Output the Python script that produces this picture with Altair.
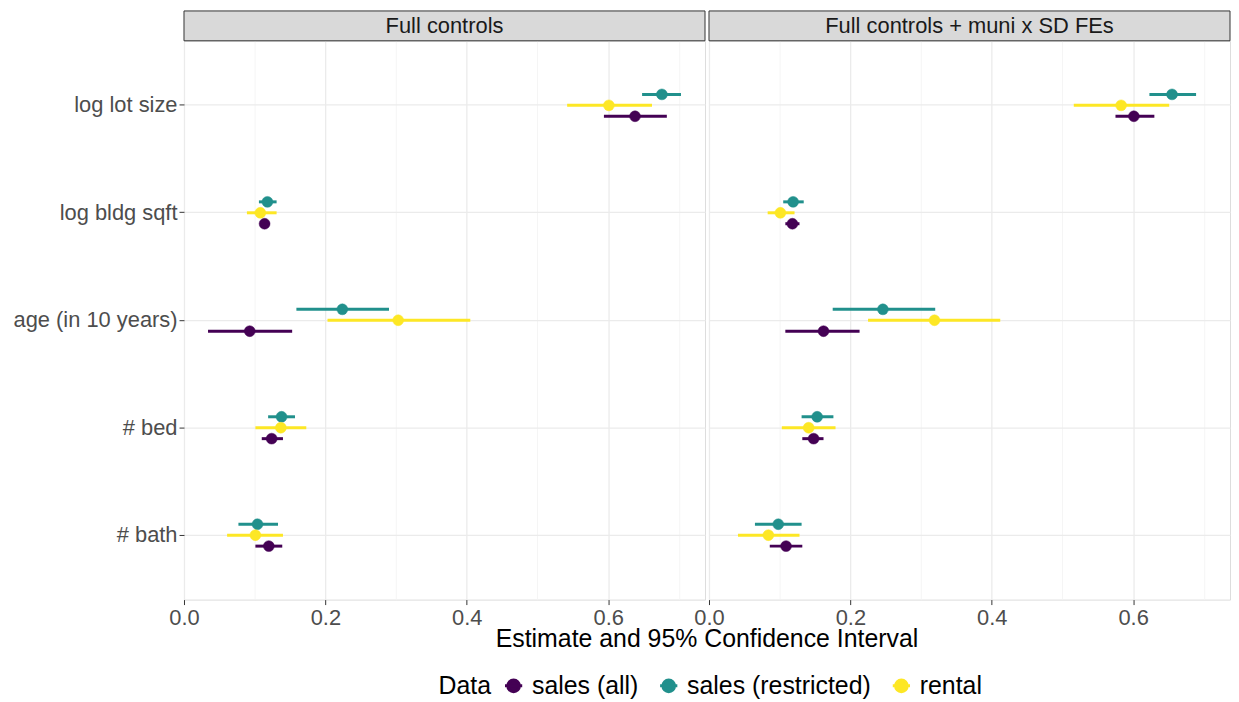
import altair as alt
import pandas as pd

variables = ["log lot size", "log bldg sqft", "age (in 10 years)", "# bed", "# bath"]
series = ["sales (all)", "sales (restricted)", "rental"]
colors = ["#440154", "#21908C", "#FDE725"]
panels = ["Full controls", "Full controls + muni x SD FEs"]
x_title = "Estimate and 95% Confidence Interval"

# Panel 1: Full controls (values in the order of `variables`)
fc_all_est = [0.638, 0.114, 0.093, 0.124, 0.120]
fc_all_lo = [0.594, 0.108, 0.034, 0.110, 0.101]
fc_all_hi = [0.683, 0.121, 0.153, 0.140, 0.139]
fc_res_est = [0.676, 0.118, 0.224, 0.138, 0.104]
fc_res_lo = [0.648, 0.106, 0.159, 0.119, 0.077]
fc_res_hi = [0.703, 0.131, 0.290, 0.157, 0.133]
fc_ren_est = [0.601, 0.108, 0.303, 0.137, 0.101]
fc_ren_lo = [0.542, 0.089, 0.203, 0.101, 0.061]
fc_ren_hi = [0.662, 0.131, 0.405, 0.173, 0.140]

# Panel 2: Full controls + muni x SD FEs
mf_all_est = [0.601, 0.118, 0.162, 0.148, 0.109]
mf_all_lo = [0.575, 0.108, 0.108, 0.132, 0.086]
mf_all_hi = [0.630, 0.128, 0.213, 0.162, 0.132]
mf_res_est = [0.655, 0.119, 0.246, 0.153, 0.098]
mf_res_lo = [0.623, 0.105, 0.175, 0.131, 0.065]
mf_res_hi = [0.689, 0.134, 0.320, 0.176, 0.131]
mf_ren_est = [0.583, 0.101, 0.319, 0.141, 0.084]
mf_ren_lo = [0.516, 0.083, 0.225, 0.103, 0.041]
mf_ren_hi = [0.651, 0.121, 0.412, 0.179, 0.128]

x_domain = [0, 0.737]
x_ticks = [0.0, 0.1, 0.2, 0.3, 0.4, 0.5, 0.6, 0.7]


def build_df(groups):
    rows = []
    for name, (est, lo, hi) in zip(series, groups):
        for v, e, l, h in zip(variables, est, lo, hi):
            rows.append({"Variable": v, "Data": name, "est": e, "lo": l, "hi": h})
    return pd.DataFrame(rows)


df1 = build_df([(fc_all_est, fc_all_lo, fc_all_hi),
                (fc_res_est, fc_res_lo, fc_res_hi),
                (fc_ren_est, fc_ren_lo, fc_ren_hi)])
df2 = build_df([(mf_all_est, mf_all_lo, mf_all_hi),
                (mf_res_est, mf_res_lo, mf_res_hi),
                (mf_ren_est, mf_ren_lo, mf_ren_hi)])

W, H = 524, 562
STRIP = 30
GAP = 4
FONT = "Liberation Sans"

legend = alt.Legend(
    title="Data", orient="none", legendX=256, legendY=636,
    direction="horizontal", titleOrient="left",
    symbolType="M -1 0 L 1 0 M 0.68 0 A 0.68 0.68 0 1 1 -0.68 0 A 0.68 0.68 0 1 1 0.68 0 Z",
    symbolSize=300, symbolStrokeWidth=3, symbolOpacity=1,
    labelFontSize=25, titleFontSize=25, labelColor="#000000", titleColor="#000000",
    labelFont=FONT, titleFont=FONT, titleFontWeight="normal", labelLimit=400,
    columnPadding=15, labelOffset=6, titlePadding=10,
)
color_scale = alt.Scale(domain=series, range=colors)

odd = "round(datum.value*10) % 2 == 1"


def x_axis():
    return alt.Axis(
        values=x_ticks, title=None, grid=True, domain=False,
        labelExpr="round(datum.value*10) % 2 == 0 ? format(datum.value, '.1f') : ''",
        labelOverlap=False, labelFlush=False, labelBound=False,
        labelFontSize=22, labelColor="#4D4D4D", labelFont=FONT, labelPadding=3,
        tickColor="#333333", tickSize=5,
        tickOpacity={"condition": {"test": odd, "value": 0}, "value": 1},
        gridColor={"condition": {"test": odd, "value": "#F2F2F2"}, "value": "#EBEBEB"},
        gridWidth={"condition": {"test": odd, "value": 0.8}, "value": 1.3},
    )


def y_axis(show):
    if show:
        return alt.Axis(title=None, grid=True, gridColor="#EBEBEB", gridWidth=1.3,
                        domain=False, bandPosition=0.5, labelFontSize=22,
                        labelColor="#4D4D4D", labelFont=FONT, labelPadding=2,
                        tickColor="#333333", tickSize=5)
    return alt.Axis(title=None, grid=True, gridColor="#EBEBEB", gridWidth=1.3,
                    domain=False, bandPosition=0.5, labels=False, ticks=False)


def panel(df, title, show_y):
    xs = alt.Scale(domain=x_domain, nice=False, zero=False)
    y = alt.Y("Variable:N", sort=variables,
              scale=alt.Scale(paddingInner=0, paddingOuter=0.1), axis=y_axis(show_y))
    yoff = alt.YOffset("Data:N", sort=["sales (restricted)", "rental", "sales (all)"],
                       scale=alt.Scale(paddingInner=0, paddingOuter=0, range=[37.6, 70.6]))
    base = alt.Chart(df)
    rules = base.mark_rule(strokeWidth=3).encode(
        x=alt.X("lo:Q", scale=xs, axis=x_axis()),
        x2="hi:Q",
        y=y, yOffset=yoff,
        color=alt.Color("Data:N", scale=color_scale, legend=legend),
    )
    points = base.mark_point(filled=True, size=120, opacity=1, strokeWidth=0.5).encode(
        x=alt.X("est:Q", scale=xs, axis=x_axis()),
        y=y, yOffset=yoff,
        color=alt.Color("Data:N", scale=color_scale, legend=legend),
        stroke=alt.Stroke("Data:N", scale=color_scale, legend=legend),
    )
    sdf = pd.DataFrame({"label": [title]})
    strip_rect = alt.Chart(sdf).mark_rect(
        fill="#D9D9D9", stroke="#333333", strokeWidth=1, clip=False
    ).encode(x=alt.value(0), x2=alt.value(W), y=alt.value(-STRIP), y2=alt.value(0))
    strip_text = alt.Chart(sdf).mark_text(
        fontSize=22, font=FONT, color="#1A1A1A", baseline="middle", align="center", clip=False
    ).encode(x=alt.value(W / 2), y=alt.value(-STRIP / 2), text="label:N")
    layers = [rules, points, strip_rect, strip_text]
    if show_y:
        tdf = pd.DataFrame({"label": [x_title]})
        title_mark = alt.Chart(tdf).mark_text(
            fontSize=25, font=FONT, color="#000000", baseline="middle", align="center", clip=False
        ).encode(x=alt.value(W + GAP / 2), y=alt.value(H + 40), text="label:N")
        layers.append(title_mark)
    return alt.layer(*layers).properties(width=W, height=H)


chart = alt.hconcat(
    panel(df1, panels[0], True),
    panel(df2, panels[1], False),
    spacing=GAP, bounds="flush",
).resolve_scale(color="shared", stroke="shared").properties(
    padding={"left": 4, "top": 0, "right": 0, "bottom": 0}
).configure_view(
    stroke="#333333", strokeWidth=1
).configure(
    font=FONT, background="white"
)

chart.save("out.html", embed_options={"renderer": "svg", "actions": False})
